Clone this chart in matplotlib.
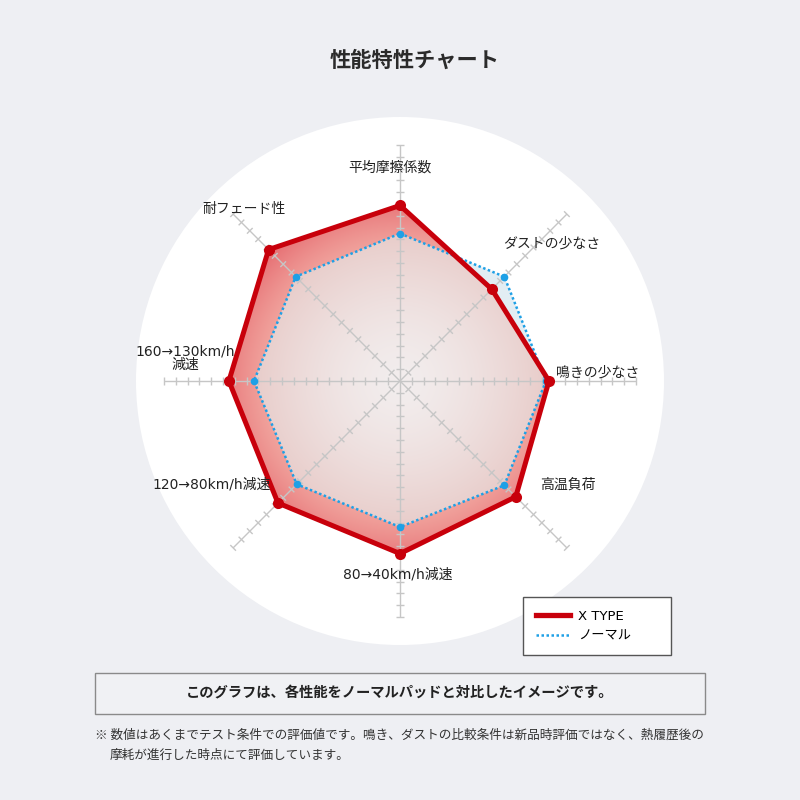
import numpy as np
import matplotlib
matplotlib.use('Agg')
import matplotlib.pyplot as plt
from matplotlib.patches import Polygon, Circle, Rectangle
from matplotlib.collections import LineCollection
from matplotlib.lines import Line2D

plt.rcParams['font.family'] = ['Noto Sans CJK JP', 'DejaVu Sans']
LABEL_FONT = ['DejaVu Sans', 'Noto Sans CJK JP']

# axes, clockwise from the top
categories = ['平均摩擦係数', 'ダストの少なさ', '鳴きの少なさ', '高温負荷',
              '80→40km/h減速', '120→80km/h減速', '160→130km/h\n減速', '耐フェード性']
x_type = [119, 88, 101, 111, 117, 117, 116, 126]
normal = [100, 100, 99, 100, 99, 99, 99, 100]
series_names = ['X TYPE', 'ノーマル']
axis_max = 160
tick_step = 8

title = '性能特性チャート'
note = 'このグラフは、各性能をノーマルパッドと対比したイメージです。'
footnote1 = '※ 数値はあくまでテスト条件での評価値です。鳴き、ダストの比較条件は新品時評価ではなく、熱履歴後の'
footnote2 = '摩耗が進行した時点にて評価しています。'

RED = '#c8000b'
BLUE = '#1ea0e6'
BG = '#eeeff3'


def fx(px):
    return px / 800.0


def fy(py):
    return 1 - py / 800.0


def to_xy(values):
    n = len(values)
    ang = np.arange(n) * 2 * np.pi / n
    v = np.asarray(values, dtype=float)
    return v * np.sin(ang), v * np.cos(ang)


def star_radius(values, theta):
    # radius of a star shaped polygon (around the origin) along direction theta
    n = len(values)
    x, y = to_xy(values)
    step = 2 * np.pi / n
    i = np.floor(theta / step).astype(int) % n
    j = (i + 1) % n
    ex, ey = x[j] - x[i], y[j] - y[i]
    dx, dy = np.sin(theta), np.cos(theta)
    return (x[i] * ey - y[i] * ex) / (dx * ey - dy * ex)


def radial_image(lim, r_ref, c0, c1, power):
    g = np.linspace(-lim, lim, 500)
    xx, yy = np.meshgrid(g, g)
    t = np.clip(np.hypot(xx, yy) / r_ref, 0, 1) ** power
    c0 = np.array(c0)
    c1 = np.array(c1)
    return c0 + (c1 - c0) * t[..., None]


fig = plt.figure(figsize=(8, 8), dpi=100, facecolor=BG)

# radar axes: centre at pixel (400, 381), 1 unit = 1.475 px
px_per_unit = 236.0 / axis_max
half = 300 / px_per_unit
ax = fig.add_axes([fx(100), fy(381 + 300), fx(600), fx(600)])
ax.axis('off')

ax.add_patch(Circle((0, 0), 264 / px_per_unit, fc='white', ec='none', zorder=0))

xn, yn = to_xy(normal)
xt, yt = to_xy(x_type)

# normal area outside the X TYPE area
ax.fill(xn, yn, color='#e2edf3', lw=0, zorder=1)

# X TYPE area with radial gradient
red_img = radial_image(170, max(x_type), (0.98, 0.82, 0.76), (0.90, 0.42, 0.44), 2.5)
im = ax.imshow(red_img, extent=(-170, 170, -170, 170), origin='lower', zorder=2,
               interpolation='bilinear')
im.set_clip_path(Polygon(np.column_stack([xt, yt]), closed=True, transform=ax.transData))

# common area of both series
theta = np.linspace(0, 2 * np.pi, 1441)[:-1]
r_in = np.minimum(star_radius(x_type, theta), star_radius(normal, theta))
inner = np.column_stack([r_in * np.sin(theta), r_in * np.cos(theta)])
in_img = radial_image(170, max(normal), (0.95, 0.93, 0.93), (0.91, 0.80, 0.79), 1.5)
im2 = ax.imshow(in_img, extent=(-170, 170, -170, 170), origin='lower', zorder=3,
                interpolation='bilinear')
im2.set_clip_path(Polygon(inner, closed=True, transform=ax.transData))
ax.set_xlim(-half, half)
ax.set_ylim(-half, half)
ax.set_aspect('equal')

# spokes with tick marks
n = len(categories)
ang = np.arange(n) * 2 * np.pi / n
segs = []
tick_half = 4 / px_per_unit
for a in ang:
    ux, uy = np.sin(a), np.cos(a)
    segs.append([(0, 0), (axis_max * ux, axis_max * uy)])
    for r in np.arange(tick_step, axis_max + 1, tick_step):
        cx, cy = r * ux, r * uy
        segs.append([(cx - tick_half * uy, cy + tick_half * ux),
                     (cx + tick_half * uy, cy - tick_half * ux)])
ax.add_collection(LineCollection(segs, colors='#c6c6c6', linewidths=1.0, zorder=4))

ax.plot(np.append(xn, xn[0]), np.append(yn, yn[0]), color=BLUE, lw=1.8,
        ls=(0, (1, 1)), zorder=5)
ax.plot(xn, yn, 'o', color=BLUE, ms=5.5, mew=0, zorder=5)
ax.plot(np.append(xt, xt[0]), np.append(yt, yt[0]), color=RED, lw=3.6, zorder=6,
        solid_joinstyle='miter')
ax.plot(xt, yt, 'o', color=RED, ms=8, mew=0, zorder=7)

# category labels
label_pos = [(390, 168), (552, 244), (598, 373), (568, 485),
             (398, 574), (212, 485), (185, 358), (244, 209)]
for lab, (px, py) in zip(categories, label_pos):
    fig.text(fx(px), fy(py), lab, ha='center', va='center', fontsize=10,
             color='#222222', linespacing=0.95, multialignment='center',
             family=LABEL_FONT)

fig.text(fx(415), fy(60), title, ha='center', va='center', fontsize=15.3,
         fontweight='bold', color='#2b2b2b')

handles = [Line2D([], [], color=RED, lw=3.8),
           Line2D([], [], color=BLUE, lw=1.8, ls=(0, (1, 1)))]
leg = fig.legend(handles, series_names, loc='upper left',
                 bbox_to_anchor=(fx(523), fy(652), fx(148), fx(55)), mode='expand',
                 borderaxespad=0, prop={'family': LABEL_FONT, 'size': 9.5},
                 handlelength=2.6, handletextpad=0.6, borderpad=0.95,
                 labelspacing=0.55, fancybox=False, framealpha=1, edgecolor='#555555')
leg.get_frame().set_linewidth(1.0)

fig.add_artist(Rectangle((fx(95), fy(714)), fx(610), fx(41), transform=fig.transFigure,
                         fc='#f0f1f4', ec='#8a8a8a', lw=1.0))
fig.text(fx(400), fy(693), note, ha='center', va='center', fontsize=10.3,
         fontweight='bold', color='#222222')
fig.text(fx(95), fy(735), footnote1, ha='left', va='center', fontsize=9.1, color='#333333')
fig.text(fx(110), fy(755), footnote2, ha='left', va='center', fontsize=9.1, color='#333333')

fig.savefig('out.png', dpi=100, facecolor=BG)
